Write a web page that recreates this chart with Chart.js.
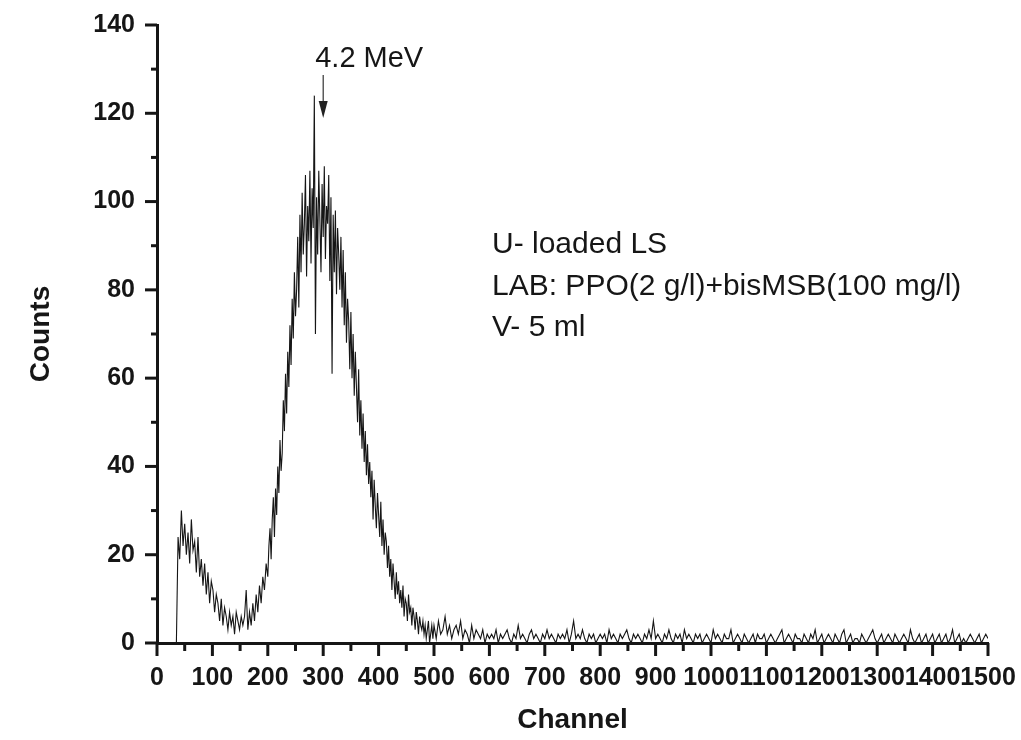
<!DOCTYPE html>
<html>
<head>
    <title>U-loaded LS spectrum</title>
    <script src="https://cdn.jsdelivr.net/npm/chart.js"></script>
    <style>
        body { margin: 0; background: #fff; }
    </style>
</head>
<body>
    <canvas id="myChart" width="1021" height="740"></canvas>
    <script>
        // Spectrum. Each block: first channel, channel step, counts.

        // channels 35 - 197, every 3 (low-energy hump and valley)
        const lowStart = 35, lowStep = 3;
        const countsLow = [0, 24, 19, 30, 22, 27, 20, 25, 18, 28,
            21, 23, 16, 24, 15, 19, 13, 18, 11, 16,
            9, 14, 12, 7, 11, 9, 5, 10, 4, 8,
            6, 3, 7, 4, 6, 2, 7, 5, 3, 6,
            4, 6, 12, 3, 7, 4, 9, 5, 11, 7,
            13, 9, 15, 12, 18];

        // channels 200 - 498, every 2 (main peak)
        const peakStart = 200, peakStep = 2;
        const countsPeak = [15, 22, 26, 19, 28, 33, 24, 35, 29, 40,
            34, 46, 39, 43, 55, 48, 61, 52, 66, 58,
            72, 63, 78, 69, 84, 74, 80, 92, 76, 97,
            84, 102, 88, 95, 106, 83, 99, 91, 107, 86,
            103, 94, 124, 70, 101, 88, 107, 96, 84, 104,
            92, 108, 87, 99, 95, 106, 82, 101, 61, 97,
            84, 98, 79, 94, 88, 80, 92, 76, 89, 72,
            84, 68, 78, 73, 62, 75, 60, 70, 56, 66,
            58, 50, 62, 47, 55, 44, 52, 41, 48, 38,
            45, 36, 41, 33, 39, 28, 37, 31, 26, 34,
            29, 24, 32, 22, 28, 20, 25, 23, 17, 22,
            15, 19, 12, 18, 14, 10, 16, 11, 14, 9,
            12, 8, 13, 6, 10, 9, 5, 11, 7, 8,
            4, 8, 6, 3, 7, 5, 2, 6, 4, 3,
            5, 2, 4, 1, 3, 5, 0, 2, 4, 1];

        // channels 500 - 1500, every 4 (tail)
        const tailStart = 500, tailStep = 4;
        const countsTail = [4, 1, 5, 2, 3, 6, 2, 4, 1, 3, 4, 2, 5, 1, 3, 2, 0, 4, 1, 3, 2, 1, 3, 0, 2,
            1, 2, 1, 3, 0, 2, 1, 2, 3, 1, 0, 2, 1, 4, 1, 2, 1, 0, 2, 3, 1, 2, 1, 0, 2,
            1, 3, 1, 2, 1, 0, 2, 1, 2, 1, 3, 0, 2, 5, 1, 2, 1, 3, 1, 0, 2, 1, 2, 0, 1,
            2, 1, 2, 0, 3, 1, 2, 1, 0, 2, 1, 2, 3, 1, 0, 2, 1, 2, 1, 0, 2, 1, 3, 1, 5,
            1, 2, 1, 0, 2, 1, 3, 1, 0, 2, 1, 2, 0, 3, 1, 2, 1, 0, 2, 1, 2, 0, 1, 2, 1,
            0, 3, 1, 2, 1, 0, 2, 1, 1, 3, 0, 1, 2, 1, 0, 2, 1, 0, 1, 2, 0, 2, 1, 1, 2,
            0, 1, 2, 1, 0, 1, 2, 3, 0, 1, 2, 1, 0, 2, 1, 1, 0, 2, 1, 0, 2, 1, 3, 0, 1,
            2, 0, 1, 2, 1, 0, 2, 1, 0, 2, 3, 0, 1, 2, 0, 1, 1, 0, 2, 1, 0, 1, 2, 3, 1,
            0, 1, 2, 0, 1, 2, 1, 0, 2, 1, 0, 1, 2, 1, 0, 3, 1, 0, 1, 2, 0, 1, 2, 0, 1,
            2, 0, 1, 2, 0, 1, 2, 0, 1, 3, 0, 1, 2, 0, 1, 0, 1, 2, 1, 0, 1, 2, 0, 1, 2,
            1];

        const xTicks = [0, 100, 200, 300, 400, 500, 600, 700, 800, 900, 1000, 1100, 1200, 1300, 1400, 1500];
        const yTicks = [0, 20, 40, 60, 80, 100, 120, 140];

        const peakLabel = '4.2 MeV';
        const peakChannel = 300;
        const noteLines = ['U- loaded LS', 'LAB: PPO(2 g/l)+bisMSB(100 mg/l)', 'V- 5 ml'];

        const toPoints = (start, step, arr) => arr.map((c, i) => ({ x: start + i * step, y: c }));
        const points = [].concat(
            toPoints(lowStart, lowStep, countsLow),
            toPoints(peakStart, peakStep, countsPeak),
            toPoints(tailStart, tailStep, countsTail)
        );

        const ink = '#161616';
        const fontFamily = '"Liberation Sans", Arial, sans-serif';

        // outward major/minor ticks plus the text annotations
        const decorations = {
            id: 'decorations',
            afterDraw(chart) {
                const { ctx, chartArea, scales } = chart;
                const xs = scales.x, ys = scales.y;
                ctx.save();
                ctx.strokeStyle = ink;
                ctx.lineWidth = 3;
                for (let v = 0; v <= 1500; v += 50) {
                    const px = xs.getPixelForValue(v);
                    const len = v % 100 === 0 ? 13 : 8;
                    ctx.beginPath();
                    ctx.moveTo(px, chartArea.bottom);
                    ctx.lineTo(px, chartArea.bottom + len);
                    ctx.stroke();
                }
                for (let v = 0; v <= 140; v += 10) {
                    const py = ys.getPixelForValue(v);
                    const len = v % 20 === 0 ? 12 : 6;
                    ctx.beginPath();
                    ctx.moveTo(chartArea.left, py);
                    ctx.lineTo(chartArea.left - len, py);
                    ctx.stroke();
                }

                // arrow pointing at the peak
                const ax = xs.getPixelForValue(peakChannel);
                ctx.strokeStyle = '#333';
                ctx.fillStyle = '#222';
                ctx.lineWidth = 1.2;
                ctx.beginPath();
                ctx.moveTo(ax, 75);
                ctx.lineTo(ax, 104);
                ctx.stroke();
                ctx.beginPath();
                ctx.moveTo(ax - 4.5, 101);
                ctx.lineTo(ax + 4.5, 101);
                ctx.lineTo(ax, 118);
                ctx.closePath();
                ctx.fill();

                ctx.fillStyle = ink;
                ctx.textAlign = 'left';
                ctx.textBaseline = 'alphabetic';
                ctx.font = '29px ' + fontFamily;
                ctx.fillText(peakLabel, ax - 8, 67);

                ctx.font = '30px ' + fontFamily;
                noteLines.forEach((t, i) => ctx.fillText(t, 492, 253 + i * 41.5));
                ctx.restore();
            }
        };

        const ctx = document.getElementById('myChart').getContext('2d');
        new Chart(ctx, {
            type: 'line',
            data: {
                datasets: [{
                    data: points,
                    borderColor: ink,
                    borderWidth: 1.1,
                    pointRadius: 0,
                    tension: 0,
                    fill: false
                }]
            },
            options: {
                responsive: false,
                animation: false,
                layout: { padding: { top: 25, right: 33, left: 0, bottom: 0 } },
                plugins: {
                    legend: { display: false },
                    tooltip: { enabled: false }
                },
                scales: {
                    x: {
                        type: 'linear',
                        min: 0,
                        max: 1500,
                        afterBuildTicks: (s) => { s.ticks = xTicks.map(v => ({ value: v })); },
                        afterFit: (s) => { s.height = 97; s.paddingLeft = 0; s.paddingRight = 0; },
                        grid: { display: true, drawOnChartArea: false, drawTicks: false },
                        border: { display: true, color: ink, width: 3 },
                        ticks: {
                            color: ink,
                            padding: 20,
                            maxRotation: 0,
                            autoSkip: false,
                            callback: (v) => String(v),
                            font: { family: fontFamily, size: 25, weight: 'bold' }
                        },
                        title: {
                            display: true,
                            text: 'Channel',
                            color: ink,
                            padding: { top: 0, bottom: 3 },
                            font: { family: fontFamily, size: 28, weight: 'bold' }
                        }
                    },
                    y: {
                        min: 0,
                        max: 140,
                        afterBuildTicks: (s) => { s.ticks = yTicks.map(v => ({ value: v })); },
                        afterFit: (s) => { s.width = 157; s.paddingTop = 0; s.paddingBottom = 0; },
                        grid: { display: true, drawOnChartArea: false, drawTicks: false },
                        border: { display: true, color: ink, width: 3 },
                        ticks: {
                            color: ink,
                            padding: 22,
                            callback: (v) => String(v),
                            font: { family: fontFamily, size: 25, weight: 'bold' }
                        },
                        title: {
                            display: true,
                            text: 'Counts',
                            color: ink,
                            padding: { top: 24, bottom: 0 },
                            font: { family: fontFamily, size: 28, weight: 'bold' }
                        }
                    }
                }
            },
            plugins: [decorations]
        });
    </script>
</body>
</html>
